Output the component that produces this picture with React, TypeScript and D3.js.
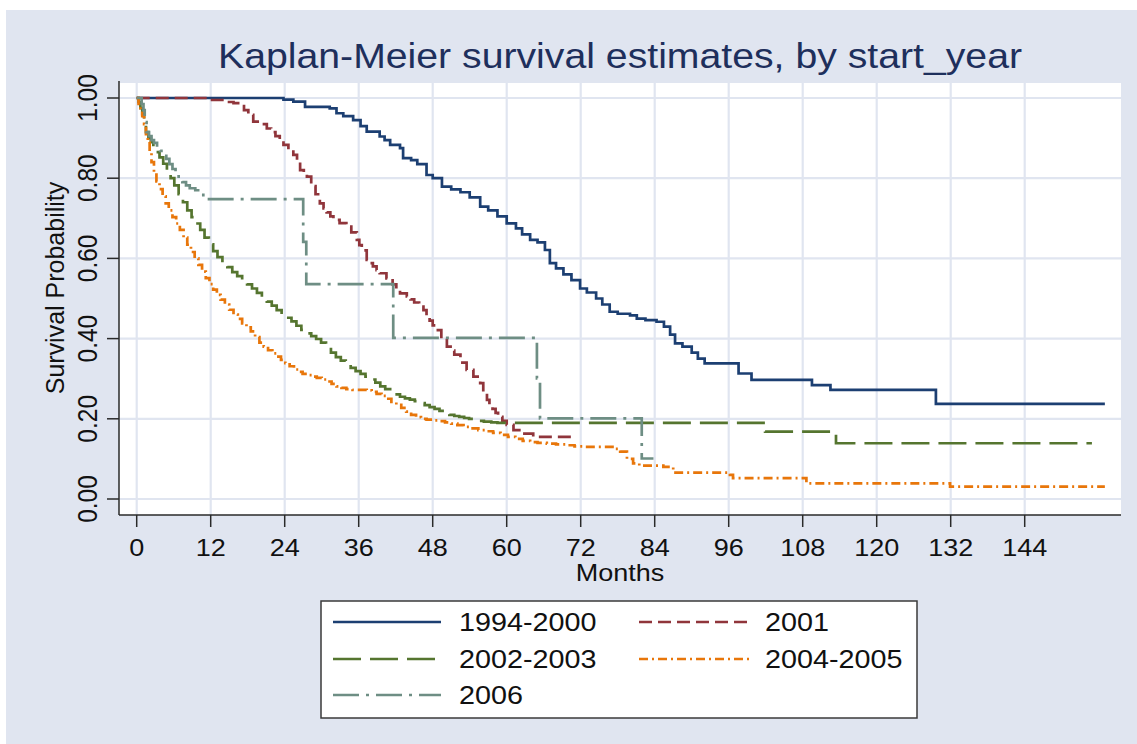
import React from "react";
import * as d3 from "d3";

// ---------- data (months, survival probability) ----------
const monthTicks = [0, 12, 24, 36, 48, 60, 72, 84, 96, 108, 120, 132, 144];
const probTicks = [0, 0.2, 0.4, 0.6, 0.8, 1.0];

const seriesNames = ["1994-2000", "2001", "2002-2003", "2004-2005", "2006"];

const s1994_2000: [number, number][] = [
  [0, 1.0], [23.8, 0.996], [25.4, 0.991], [27.3, 0.978], [31.3, 0.974], [32.4, 0.962], [33.5, 0.955],
  [35.1, 0.945], [36.3, 0.93], [37.3, 0.916], [39.4, 0.904], [40.2, 0.895], [41.1, 0.883], [42.7, 0.875],
  [43.2, 0.85], [44.5, 0.845], [45.5, 0.835], [47.0, 0.808], [48, 0.8], [49.5, 0.779], [51, 0.772],
  [52.5, 0.765], [54, 0.752], [55.7, 0.729], [57, 0.72], [58.5, 0.705], [60, 0.6875], [61.5, 0.675],
  [62.5, 0.66], [63.8, 0.646], [65, 0.64], [66.2, 0.621], [67, 0.588], [68, 0.575], [69.2, 0.56],
  [70.5, 0.546], [71.9, 0.525], [73, 0.515], [74.5, 0.5], [75.5, 0.485], [76.7, 0.467], [78, 0.462],
  [80, 0.458], [81.1, 0.45], [82.5, 0.446], [84.3, 0.442], [85.5, 0.43], [86.5, 0.41], [87.3, 0.388],
  [88.5, 0.38], [90, 0.365], [91, 0.35], [92.1, 0.338], [97.6, 0.313], [99.7, 0.297], [109.5, 0.284],
  [112.5, 0.272], [129.6, 0.237], [157, 0.237],
];

const s2001: [number, number][] = [
  [0, 1.0], [11.9, 0.995], [14.6, 0.99], [15.7, 0.987], [16.75, 0.98], [17.4, 0.97], [18.1, 0.958],
  [18.9, 0.941], [20, 0.935], [21.1, 0.924], [21.8, 0.915], [22.5, 0.905], [23.2, 0.894], [23.8, 0.883],
  [24.6, 0.87], [25.4, 0.858], [26, 0.84], [26.5, 0.82], [27.1, 0.81], [27.6, 0.804], [28.3, 0.78],
  [29, 0.76], [29.7, 0.737], [30.3, 0.725], [30.8, 0.715], [31.4, 0.705], [31.9, 0.696], [32.9, 0.688],
  [34, 0.679], [34.8, 0.665], [35.7, 0.646], [36.1, 0.633], [36.5, 0.62], [37.3, 0.596], [37.8, 0.588],
  [38.3, 0.58], [38.9, 0.571], [39.4, 0.563], [40.5, 0.55], [41.5, 0.535], [42.1, 0.525], [42.7, 0.513],
  [43.8, 0.505], [44.4, 0.498], [45, 0.49], [45.8, 0.48], [46.5, 0.471], [47, 0.458], [47.5, 0.445],
  [48, 0.433], [48.6, 0.421], [49.4, 0.4], [50.3, 0.38], [50.9, 0.37], [51.5, 0.36], [52.5, 0.34],
  [53.5, 0.322], [54.6, 0.305], [55.7, 0.289], [56.2, 0.268], [56.8, 0.247], [57.2, 0.236], [57.7, 0.225],
  [58.2, 0.215], [58.6, 0.205], [59.3, 0.195], [60, 0.185], [61.1, 0.172], [62.5, 0.163], [64.3, 0.155],
  [70.8, 0.151],
];

const s2002_2003: [number, number][] = [
  [0, 1.0], [0.3, 0.99], [0.6, 0.975], [0.9, 0.96], [1.2, 0.935], [1.5, 0.915], [1.9, 0.9], [2.3, 0.89],
  [2.7, 0.879], [3.2, 0.865], [3.7, 0.852], [4.3, 0.836], [4.9, 0.82], [5.5, 0.8], [6.1, 0.782], [6.8, 0.76],
  [7.5, 0.74], [8.2, 0.72], [8.9, 0.703], [9.6, 0.687], [10.3, 0.671], [11.0, 0.652], [11.7, 0.635],
  [12.4, 0.618], [13.1, 0.603], [13.9, 0.59], [14.7, 0.578], [15.5, 0.566], [16.3, 0.556], [17.1, 0.545],
  [17.9, 0.535], [18.7, 0.525], [19.5, 0.514], [20.3, 0.503], [21.1, 0.492], [21.9, 0.482], [22.7, 0.471],
  [23.5, 0.461], [24.3, 0.452], [25.1, 0.443], [25.9, 0.432], [26.7, 0.422], [27.5, 0.413], [28.3, 0.406],
  [29.1, 0.399], [29.9, 0.39], [30.7, 0.378], [31.5, 0.365], [32.3, 0.354], [33.1, 0.345], [33.9, 0.336],
  [34.7, 0.327], [35.5, 0.319], [36.3, 0.312], [37.1, 0.305], [37.9, 0.298], [38.7, 0.29], [39.5, 0.281],
  [40.3, 0.274], [41.1, 0.268], [41.9, 0.261], [42.7, 0.255], [43.5, 0.251], [44.3, 0.248], [45.1, 0.244],
  [45.9, 0.239], [46.7, 0.234], [47.5, 0.229], [48.3, 0.225], [49.1, 0.22], [49.9, 0.215], [50.7, 0.21],
  [51.5, 0.207], [52.3, 0.205], [53.1, 0.202], [53.9, 0.2], [54.7, 0.197], [55.5, 0.195], [56.3, 0.193],
  [57.5, 0.191], [58.5, 0.19], [101.9, 0.168], [113.4, 0.139], [154.9, 0.139],
];

const s2004_2005: [number, number][] = [
  [0, 1.0], [0.3, 0.985], [0.6, 0.97], [0.9, 0.955], [1.2, 0.935], [1.5, 0.91], [1.8, 0.89], [2.1, 0.865],
  [2.4, 0.84], [2.8, 0.815], [3.2, 0.792], [3.7, 0.773], [4.2, 0.755], [4.7, 0.737], [5.2, 0.72],
  [5.8, 0.703], [6.4, 0.687], [7.0, 0.671], [7.6, 0.652], [8.2, 0.634], [8.8, 0.616], [9.4, 0.6],
  [10.0, 0.584], [10.6, 0.567], [11.2, 0.551], [11.8, 0.536], [12.4, 0.522], [13.0, 0.509], [13.6, 0.497],
  [14.3, 0.485], [15.0, 0.472], [15.7, 0.46], [16.4, 0.449], [17.1, 0.438], [17.8, 0.428], [18.5, 0.418],
  [19.2, 0.404], [19.9, 0.39], [20.6, 0.38], [21.3, 0.371], [22.0, 0.363], [22.7, 0.355], [23.4, 0.347],
  [24.1, 0.339], [24.8, 0.331], [25.5, 0.323], [26.2, 0.317], [26.9, 0.312], [27.6, 0.309], [28.4, 0.305],
  [29.2, 0.302], [30.0, 0.298], [30.8, 0.293], [31.6, 0.287], [32.4, 0.281], [33.2, 0.277], [34.0, 0.274],
  [35.0, 0.272], [37.3, 0.271], [38.1, 0.267], [38.9, 0.262], [39.7, 0.257], [40.5, 0.25], [41.3, 0.242],
  [42.1, 0.235], [42.9, 0.227], [43.7, 0.218], [44.5, 0.21], [45.3, 0.204], [46.1, 0.2], [47.0, 0.198],
  [48.0, 0.196], [49.0, 0.194], [50.0, 0.191], [51.0, 0.188], [52.0, 0.184], [53.0, 0.18], [54.2, 0.176],
  [55.4, 0.172], [56.6, 0.169], [57.8, 0.165], [59.0, 0.16], [60.2, 0.155], [61.4, 0.15], [62.6, 0.145],
  [63.8, 0.142], [65.0, 0.14], [66.5, 0.138], [68, 0.136], [69.5, 0.134], [71, 0.131], [72.5, 0.13],
  [77.5, 0.125], [78.4, 0.118], [79.5, 0.1], [80.5, 0.089], [81.5, 0.083], [85.4, 0.08], [87, 0.066],
  [96.2, 0.06], [96.7, 0.052], [108.6, 0.039], [131.9, 0.031], [157, 0.031],
];

const s2006: [number, number][] = [
  [0, 1.0], [0.8, 0.985], [1.1, 0.97], [1.3, 0.94], [1.6, 0.915], [2.0, 0.905], [2.4, 0.895], [2.8, 0.888],
  [3.3, 0.878], [3.8, 0.868], [4.3, 0.86], [4.8, 0.848], [5.3, 0.835], [5.8, 0.823], [6.3, 0.81], [6.8, 0.8],
  [7.4, 0.79], [8.0, 0.782], [8.6, 0.775], [9.5, 0.77], [10.3, 0.766], [10.8, 0.748], [27.0, 0.641],
  [27.5, 0.536], [41.6, 0.402], [64.9, 0.301], [65.4, 0.201], [81.9, 0.101], [83.8, 0.101],
];

const allSeries = [s1994_2000, s2001, s2002_2003, s2004_2005, s2006];
const colors = ["#1c3f72", "#90353b", "#55752f", "#e8760a", "#6e8e84"];
const dashes = ["none", "13,6", "28,9", "9,4,2,4", "26,7,3,7"];

// ---------- layout ----------
const W = 1137;
const H = 744;
const BG = "#e0e5f0";
const plot = { left: 119, right: 1121, top: 81, bottom: 515 };

export default function App() {
  const x = d3.scaleLinear().domain([0, 144]).range([136.7, 1024.7]);
  const y = d3.scaleLinear().domain([0, 1]).range([499, 98]);
  const line = d3
    .line<[number, number]>()
    .x((d) => x(d[0]))
    .y((d) => y(d[1]))
    .curve(d3.curveStepAfter);

  const font = "'Liberation Sans', Arial, sans-serif";
  const sx = 1.15;

  const legendRows = [622, 659, 695];
  const legendCols = [{ l1: 333, l2: 441, t: 459 }, { l1: 639, l2: 750, t: 765 }];

  return (
    <svg
      width={W}
      height={H}
      style={{ position: "absolute", left: 0, top: 0 }}
      fontFamily={font}
    >
      <rect x={0} y={0} width={W} height={H} fill="#ffffff" />
      <rect x={6} y={10} width={W - 6} height={H - 10} fill={BG} />

      {/* title */}
      <text
        x={620}
        y={68}
        textAnchor="middle"
        fontSize={35}
        fill="#1e2f5c"
        textLength={804}
        lengthAdjust="spacingAndGlyphs"
      >
        Kaplan-Meier survival estimates, by start_year
      </text>

      {/* plot region */}
      <rect
        x={plot.left}
        y={plot.top}
        width={plot.right - plot.left}
        height={plot.bottom - plot.top}
        fill="#ffffff"
      />
      <line x1={plot.left} x2={plot.right} y1={plot.top + 1} y2={plot.top + 1} stroke={BG} strokeWidth={2} />

      {/* grid */}
      {monthTicks.map((m) => (
        <line key={"gx" + m} x1={x(m)} x2={x(m)} y1={plot.top} y2={plot.bottom} stroke={BG} strokeWidth={2.2} />
      ))}
      {probTicks.map((p) => (
        <line key={"gy" + p} x1={plot.left} x2={plot.right} y1={y(p)} y2={y(p)} stroke={BG} strokeWidth={2.2} />
      ))}

      {/* curves */}
      {allSeries.map((s, i) => (
        <path
          key={"s" + i}
          d={line(s) || ""}
          fill="none"
          stroke={colors[i]}
          strokeWidth={2.7}
          strokeDasharray={dashes[i]}
          strokeLinecap="butt"
          strokeLinejoin="miter"
        />
      ))}

      {/* axes */}
      <line x1={plot.left} x2={plot.left} y1={plot.top} y2={plot.bottom} stroke="#2a2a2a" strokeWidth={1.5} />
      <line x1={plot.left} x2={plot.right} y1={plot.bottom} y2={plot.bottom} stroke="#2a2a2a" strokeWidth={1.5} />

      {probTicks.map((p) => (
        <g key={"yt" + p}>
          <line x1={plot.left - 12} x2={plot.left} y1={y(p)} y2={y(p)} stroke="#2a2a2a" strokeWidth={1.5} />
          <text
            transform={`translate(97,${y(p)}) scale(1.12,1) rotate(-90)`}
            textAnchor="middle"
            fontSize={24.5}
            fill="#111"
          >
            {p.toFixed(2)}
          </text>
        </g>
      ))}

      {monthTicks.map((m) => (
        <g key={"xt" + m}>
          <line x1={x(m)} x2={x(m)} y1={plot.bottom} y2={plot.bottom + 12} stroke="#2a2a2a" strokeWidth={1.5} />
          <text
            transform={`translate(${x(m)},556) scale(${sx},1)`}
            textAnchor="middle"
            fontSize={23.5}
            fill="#111"
          >
            {m}
          </text>
        </g>
      ))}

      {/* axis titles */}
      <text transform={`translate(620,581) scale(${sx},1)`} textAnchor="middle" fontSize={23.5} fill="#111">
        Months
      </text>
      <text
        transform={`translate(64,288) scale(1.05,1) rotate(-90)`}
        textAnchor="middle"
        fontSize={25}
        fill="#111"
      >
        Survival Probability
      </text>

      {/* legend */}
      <rect x={321} y={601} width={596} height={117} fill="#ffffff" stroke="#3a3a3a" strokeWidth={1.5} />
      {seriesNames.map((name, i) => {
        const row = legendRows[Math.floor(i / 2)];
        const col = legendCols[i % 2];
        return (
          <g key={"lg" + i}>
            <line
              x1={col.l1}
              x2={col.l2}
              y1={row}
              y2={row}
              stroke={colors[i]}
              strokeWidth={2.4}
              strokeDasharray={dashes[i]}
            />
            <text
              transform={`translate(${col.t},${row + 9}) scale(${sx},1)`}
              fontSize={25}
              fill="#111"
            >
              {name}
            </text>
          </g>
        );
      })}
    </svg>
  );
}
